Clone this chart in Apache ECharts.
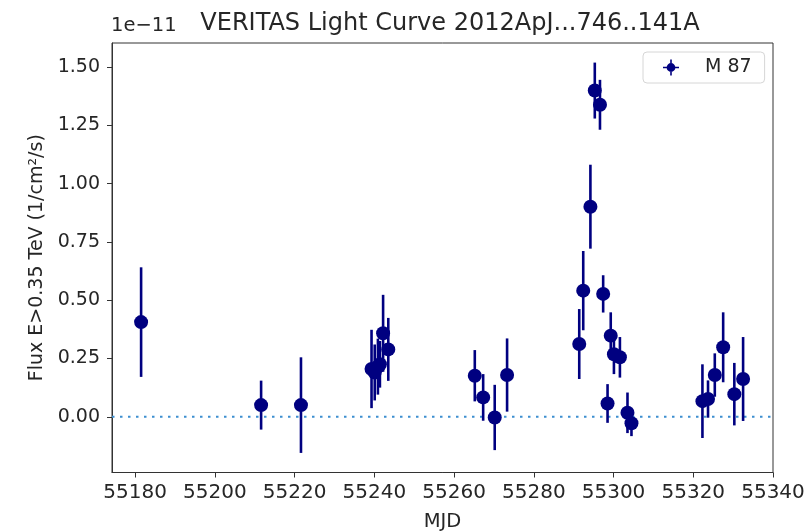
<!DOCTYPE html>
<html>
<head>
<meta charset="utf-8">
<script src="https://cdn.jsdelivr.net/npm/echarts@6/dist/echarts.min.js"></script>
<style>html,body{margin:0;padding:0;background:#fff;}#c{width:804px;height:531px;}</style>
</head>
<body>
<div id="c"></div>
<script>
var mjd = [55181.5, 55211.6, 55221.6, 55239.3, 55240.1, 55240.9, 55241.4, 55242.2, 55243.5, 55265.2, 55267.3, 55270.2, 55273.3, 55291.4, 55292.4, 55294.2, 55295.3, 55296.6, 55297.4, 55298.5, 55299.3, 55300.1, 55301.6, 55303.5, 55304.5, 55322.3, 55323.7, 55325.4, 55327.5, 55330.3, 55332.5];
var flux = [0.406, 0.05, 0.05, 0.205, 0.19, 0.215, 0.225, 0.358, 0.289, 0.176, 0.083, -0.003, 0.179, 0.312, 0.541, 0.901, 1.399, 1.338, 0.527, 0.057, 0.348, 0.268, 0.255, 0.017, -0.028, 0.067, 0.076, 0.179, 0.298, 0.097, 0.162];
var fluxErr = [0.235, 0.105, 0.205, 0.168, 0.12, 0.12, 0.1, 0.165, 0.135, 0.11, 0.1, 0.14, 0.157, 0.15, 0.17, 0.18, 0.12, 0.107, 0.08, 0.083, 0.1, 0.085, 0.087, 0.087, 0.055, 0.158, 0.08, 0.093, 0.15, 0.134, 0.18];
var xTicks = [55180, 55200, 55220, 55240, 55260, 55280, 55300, 55320, 55340];
var yTicks = [0, 0.25, 0.5, 0.75, 1.0, 1.25, 1.5];
var seriesName = 'M 87';
var titleText = 'VERITAS Light Curve 2012ApJ...746..141A';
var offsetText = '1e\u221211';

var xMin = 55174.2, xMax = 55340, yMin = -0.239, yMax = 1.603;

var points = mjd.map(function (m, i) { return [m, flux[i]]; });
var bars = mjd.map(function (m, i) { return [m, flux[i] - fluxErr[i], flux[i] + fluxErr[i]]; });

var navy = '#000080';
var txt = '#262626';
var font = 'DejaVu Sans';
var legendIcon = 'path://M4.5,10 A5.5,5.5 0 1,1 15.5,10 A5.5,5.5 0 1,1 4.5,10 Z M9,0 L11,0 L11,20 L9,20 Z M0,9 L20,9 L20,11 L0,11 Z';

var chart = echarts.init(document.getElementById('c'), null, {renderer: 'canvas'});
chart.setOption({
  animation: false,
  backgroundColor: '#fff',
  textStyle: {fontFamily: font},
  title: {
    text: titleText,
    left: 445, top: 7, textAlign: 'center',
    textStyle: {fontFamily: font, fontSize: 24, fontWeight: 'normal', color: txt}
  },
  graphic: [{
    type: 'text', left: 111, top: 16,
    style: {text: offsetText, fontFamily: font, fontSize: 19.5, fill: txt}
  }],
  legend: {
    data: [{name: seriesName, icon: legendIcon}],
    left: 643, top: 52,
    padding: [6, 13, 6, 20],
    itemWidth: 16, itemHeight: 16, itemGap: 20,
    borderColor: '#d6d6d6', borderWidth: 1, borderRadius: 4,
    textStyle: {fontFamily: font, fontSize: 19, color: txt, padding: [0, 0, 0, 21]}
  },
  grid: {left: 112, right: 31, top: 43, bottom: 58.5, containLabel: false, outerBoundsMode: 'none',
    show: true, borderColor: '#333', borderWidth: 1, backgroundColor: 'transparent'},
  xAxis: {
    type: 'value', min: xMin, max: xMax,
    name: 'MJD', nameLocation: 'middle', nameGap: 39,
    nameTextStyle: {fontFamily: font, fontSize: 19.5, color: txt},
    axisLine: {show: true, onZero: false, lineStyle: {color: '#333', width: 1}},
    axisTick: {show: true, length: 5, customValues: xTicks, lineStyle: {color: '#333'}},
    axisLabel: {customValues: xTicks, margin: 10, fontFamily: font, fontSize: 20, color: txt,
      formatter: function (v) { return String(Math.round(v)); }},
    splitLine: {show: false}
  },
  yAxis: {
    type: 'value', min: yMin, max: yMax,
    name: 'Flux E>0.35 TeV (1/cm\u00b2/s)', nameLocation: 'middle', nameGap: 62,
    nameTextStyle: {fontFamily: font, fontSize: 19, color: txt},
    axisLine: {show: true, onZero: false, lineStyle: {color: '#333', width: 1}},
    axisTick: {show: true, length: 5, customValues: yTicks, lineStyle: {color: '#333'}},
    axisLabel: {customValues: yTicks, margin: 12, fontFamily: font, fontSize: 19, color: txt,
      formatter: function (v) { return v.toFixed(2); }},
    splitLine: {show: false}
  },
  series: [
    {
      type: 'line', name: 'zero', silent: true, symbol: 'none',
      data: [[xMin, 0], [xMax, 0]],
      lineStyle: {color: '#3d8fd0', width: 2.2, type: [2.5, 5.5]},
      z: 1
    },
    {
      type: 'custom', name: seriesName, silent: true,
      data: bars,
      renderItem: function (params, api) {
        var p1 = api.coord([api.value(0), api.value(1)]);
        var p2 = api.coord([api.value(0), api.value(2)]);
        return {type: 'line', shape: {x1: p1[0], y1: p1[1], x2: p2[0], y2: p2[1]},
          style: {stroke: navy, lineWidth: 2.6}};
      },
      itemStyle: {color: navy},
      z: 2
    },
    {
      type: 'scatter', name: seriesName,
      data: points, symbol: 'circle', symbolSize: 14,
      itemStyle: {color: navy, opacity: 1},
      z: 3
    }
  ]
});
</script>
</body>
</html>
